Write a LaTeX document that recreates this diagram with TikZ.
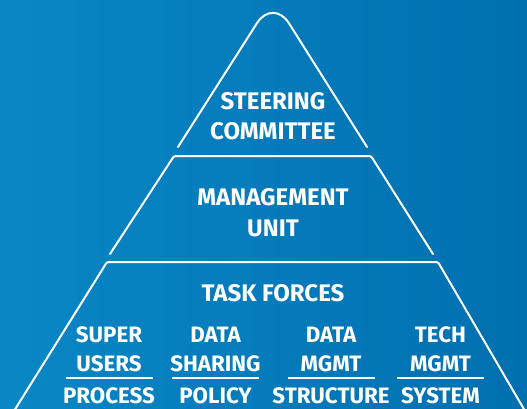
\documentclass[tikz,border=0pt]{standalone}
\usepackage{fontspec}
\setmainfont{Fira Sans}
\definecolor{bgL}{RGB}{9,135,197}
\definecolor{bgR}{RGB}{0,111,176}
\tikzset{
  outline/.style={draw=white, line width=2pt, line cap=round},
  big/.style={text=white, font=\fontsize{24}{30}\selectfont\bfseries, align=center, inner sep=0pt},
  small/.style={text=white, font=\fontsize{22.3}{28}\selectfont\bfseries, align=center, inner sep=0pt},
  rule/.style={draw=white, line width=1.6pt}
}
\begin{document}
\begin{tikzpicture}[x=1pt,y=-1pt]
\shade[left color=bgL, right color=bgR] (0,0) rectangle (527,408);
\useasboundingbox (0,0) rectangle (527,408);
\begin{scope}
\clip (0,0) rectangle (527,408);
% top triangle
\draw[outline, rounded corners=30pt] (178,147) -- (273,-2) -- (367,147);
% middle trapezoid
\draw[outline, rounded corners=1.5pt] (110,254) -- (174,156) -- (371,156) -- (433,254);
% bottom trapezoid
\draw[outline, rounded corners=1.5pt] (14,411) -- (107,262) -- (438,262) -- (525,411);
\end{scope}
% texts
\node[big] (steer) at (273,101.5) {STEERING};
\node[big] (comm) at (273,131.5) {COMMITTEE};
\node[big] (mgmt) at (273,197.5) {MANAGEMENT};
\node[big] (unit) at (273,228) {UNIT};
\node[big] (task) at (273,293) {TASK FORCES};
% columns
\foreach \n/\x/\a/\b/\c in {c1/109/SUPER/USERS/PROCESS, c2/215.5/DATA/SHARING/POLICY, c3/331/DATA/MGMT/STRUCTURE, c4/440.5/TECH/MGMT/SYSTEM}{
  \node[small] (\n a) at (\x,335) {\a};
  \node[small] (\n b) at (\x,363.5) {\b};
  \node[small] (\n c) at (\x,396) {\c};
  \coordinate (\n l) at (\x-43.5,377.7);
  \coordinate (\n r) at (\x+43.5,377.7);
  \draw[rule] (\n l) -- (\n r);
}
\end{tikzpicture}
\end{document}
